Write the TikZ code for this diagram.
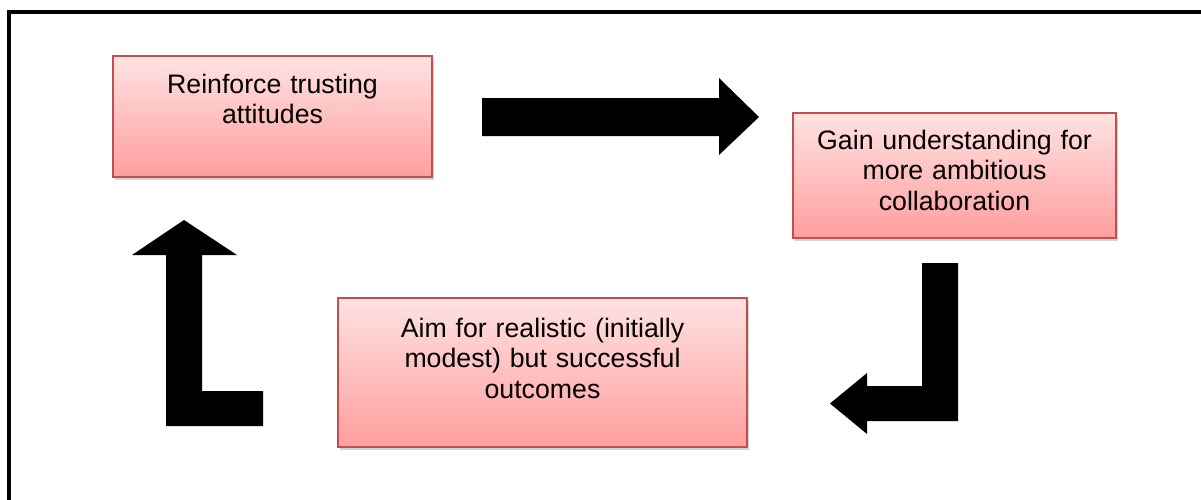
\documentclass[tikz,border=0pt]{standalone}
\usepackage{fontspec}
\setmainfont{Liberation Sans}
\usetikzlibrary{shadows}
\definecolor{boxedge}{RGB}{192,80,77}
\definecolor{boxtop}{RGB}{255,226,226}
\definecolor{boxbottom}{RGB}{255,158,158}
\begin{document}
\begin{tikzpicture}[x=1pt,y=-1pt,
	stepbox/.style={draw=boxedge, line width=1.5pt, top color=boxtop, bottom color=boxbottom,
		drop shadow={shadow xshift=2pt, shadow yshift=-3pt, opacity=0.35}, inner sep=0pt},
	steptext/.style={anchor=base, align=center, text width=400pt, inner sep=0pt,
		font=\fontsize{26.7}{30.5}\selectfont}]
	\useasboundingbox (0,0) rectangle (1201,499);
	\clip (0,0) rectangle (1201,499);
	\draw[line width=4pt] (9,520) -- (9,12) -- (1220,12);
	\node[stepbox, minimum width=319pt, minimum height=121pt] (reinforce) at (272.5,116.5) {};
	\node[steptext] (reinforcetext) at (272.5,93) {Reinforce trusting\\attitudes};
	\node[stepbox, minimum width=323pt, minimum height=125pt] (gain) at (954.5,175.5) {};
	\node[steptext] (gaintext) at (954.5,149) {Gain understanding for\\more ambitious\\collaboration};
	\node[stepbox, minimum width=409pt, minimum height=149pt] (aim) at (542.5,372.5) {};
	\node[steptext] (aimtext) at (542.5,337) {Aim for realistic (initially\\modest) but successful\\outcomes};
	\fill (482,98) -- (719,98) -- (719,78) -- (759,117) -- (719,155) -- (719,136) -- (482,136) -- cycle;
	\fill (922,263) -- (958,263) -- (958,421) -- (867,421) -- (867,434) -- (830,403.5)
		-- (867,373) -- (867,386) -- (922,386) -- cycle;
	\fill (166,426) -- (263,426) -- (263,391) -- (202,391) -- (202,255) -- (237,255)
		-- (184,220) -- (132,255) -- (166,255) -- cycle;
\end{tikzpicture}
\end{document}
